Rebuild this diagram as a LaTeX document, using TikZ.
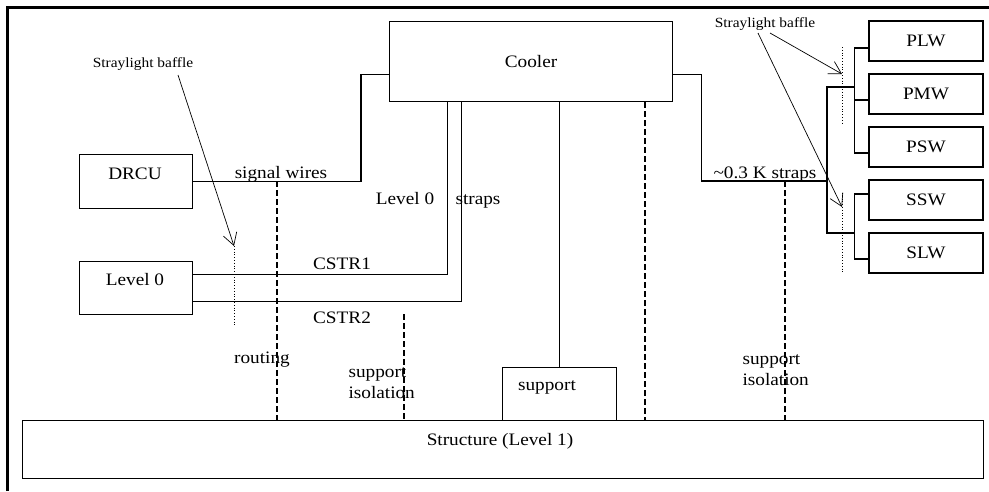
\documentclass[tikz,border=0pt]{standalone}
\usepackage{fontspec}
\setmainfont[FakeStretch=1.1]{Liberation Serif}
\usetikzlibrary{arrows.meta}

\begin{document}
\begin{tikzpicture}[x=1pt,y=-1pt,line width=1.1pt,font=\fontsize{17.5}{21}\selectfont,
  box/.style={draw,rectangle,inner sep=0pt,anchor=north west},
  det/.style={draw,rectangle,inner sep=0pt,minimum width=114pt,minimum height=40pt},
  lbl/.style={anchor=base,inner sep=0pt},
  small/.style={font=\fontsize{14}{16}\selectfont},
  isol/.style={dash pattern=on 6pt off 3pt,line width=1.3pt},
  baffle/.style={dotted,line width=.8pt},
  ptr/.style={line width=.7pt,-{Straight Barb[length=12pt,width=14pt]}}]
\useasboundingbox (0,0) rectangle (989,491);
\draw[line width=3pt] (7,491) -- (7,7) -- (989,7);
% boxes
\node[box,minimum width=283pt,minimum height=80pt] (cooler) at (389,21) {Cooler};
\node[box,minimum width=113pt,minimum height=54pt] (drcu) at (79,154) {};
\node[lbl] (drcut) at (135,179) {DRCU};
\node[box,minimum width=113pt,minimum height=53pt] (lvl0) at (79,261) {};
\node[lbl] (lvl0t) at (135,285) {Level 0};
\node[box,minimum width=114pt,minimum height=53pt] (support) at (502,367) {};
\node[lbl] (supportt) at (547,390) {support};
\node[box,minimum width=961pt,minimum height=58pt] (struct) at (22,420) {};
\node[lbl] (structt) at (500,445) {Structure (Level 1)};
\foreach \n/\t [count=\i from 0] in {plw/PLW,pmw/PMW,psw/PSW,ssw/SSW,slw/SLW}
  \node[det] (\n) at (926,41+53*\i) {\t};
% wires and straps
\draw ([yshift=-13pt]cooler.west) -- ++(-28,0) |- (drcu.east);
\draw ([xshift=-84pt]cooler.south) |- ([yshift=13.5pt]lvl0.east);
\draw ([xshift=-70pt]cooler.south) |- ([yshift=-13.5pt]lvl0.east);
\draw (support.north) -- (support.north |- cooler.south);
\coordinate (hub) at (827,181);
\coordinate (ptop) at (855,87);
\coordinate (sbot) at (855,233);
\draw ([yshift=-13pt]cooler.east) -- ++(28,0) |- (hub);
\draw (ptop) -| (hub) |- (sbot);
\draw ([yshift=-7pt]plw.west) -| ([xshift=-14pt,yshift=-6pt]psw.west) -- ([yshift=-6pt]psw.west);
\draw ([yshift=-6pt]pmw.west) -- ++(-14,0);
\draw ([yshift=6pt]ssw.west) -| ([xshift=-14pt,yshift=-6pt]slw.west) -- ([yshift=-6pt]slw.west);
% isolation
\coordinate (rt) at (277,181);
\coordinate (si1) at (404,314);
\coordinate (si2) at (785,181);
\draw[isol] (rt) -- (rt |- struct.north);
\draw[isol] (si1) -- (si1 |- struct.north);
\draw[isol] (si2) -- (si2 |- struct.north);
\draw[isol] ([xshift=114pt]cooler.south) -- ([xshift=114pt]cooler.south |- struct.north);
% baffles
\coordinate (bfl) at (234,246);
\coordinate (bfp) at (842,74);
\coordinate (bfs) at (842,207);
\draw[baffle] (bfl) -- (234,327);
\draw[baffle] (842,47) -- (842,125);
\draw[baffle] (842,193) -- (842,272);
% labels
\node[lbl] (sigw) at (281,178) {signal wires};
\node[lbl] (lv0s) at (405,204) {Level 0};
\node[lbl,anchor=base west] (straps) at (455,204) {straps};
\node[lbl] (cstr1) at (342,269) {CSTR1};
\node[lbl] (cstr2) at (342,323) {CSTR2};
\node[lbl] (routing) at (262,363) {routing};
\node[lbl,anchor=base west,align=left] (isol1) at (348,398) {support\\isolation};
\node[lbl,anchor=base west,align=left] (isol2) at (742,385) {support\\isolation};
\node[lbl] (k03) at (765,178) {\textasciitilde 0.3 K straps};
\node[lbl,small] (sbl) at (143,67) {Straylight baffle};
\node[lbl,small] (sbr) at (765,27) {Straylight baffle};
\draw[ptr] ([xshift=35pt,yshift=-8pt]sbl.base) -- (bfl);
\draw[ptr] ([xshift=5pt,yshift=-6pt]sbr.base) -- (bfp);
\draw[ptr] ([xshift=-7pt,yshift=-6pt]sbr.base) -- (bfs);
\end{tikzpicture}
\end{document}
